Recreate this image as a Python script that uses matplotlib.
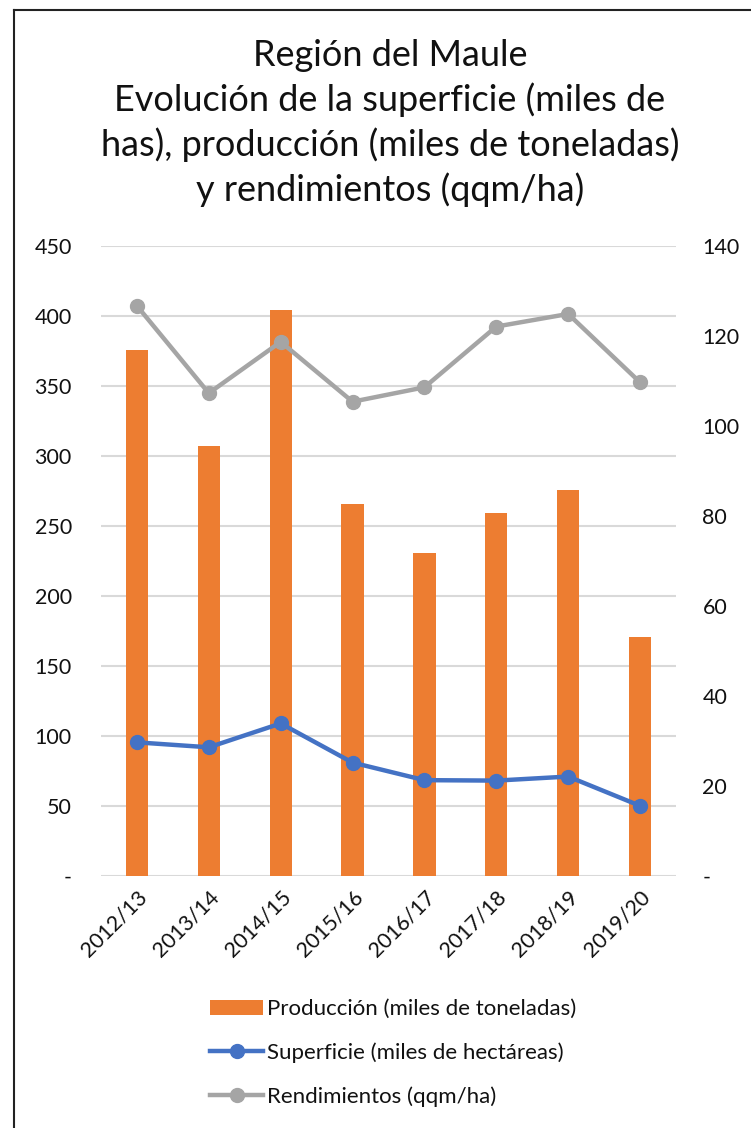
"""
Región del Maule — producción, superficie y rendimientos por temporada.
"""

import matplotlib
matplotlib.use('Agg')
import matplotlib.pyplot as plt
from matplotlib.lines import Line2D
from matplotlib.patches import Patch

plt.rcParams['font.family'] = ['Lato', 'DejaVu Sans']

seasons = ['2012/13', '2013/14', '2014/15', '2015/16',
           '2016/17', '2017/18', '2018/19', '2019/20']
produccion = [376, 307, 404, 266, 231, 259, 276, 171]
superficie = [29.7, 28.6, 33.9, 25.2, 21.3, 21.2, 22.1, 15.6]
rendimientos = [126.7, 107.3, 118.7, 105.4, 108.6, 122.1, 124.9, 109.7]

title_lines = [
    'Región del Maule',
    'Evolución de la superficie (miles de',
    'has), producción (miles de toneladas)',
    'y rendimientos (qqm/ha)',
]

ORANGE = '#ED7D31'
BLUE = '#4472C4'
GREY = '#A5A5A5'
GRID = '#D9D9D9'
TEXT = '#111111'

fig = plt.figure(figsize=(7.51, 11.28), dpi=100)
ax = fig.add_axes([101 / 751, 1 - 876 / 1128, 575 / 751, 630 / 1128])
ax2 = ax.twinx()

x = range(len(seasons))
ax.bar(x, produccion, width=0.31, color=ORANGE, zorder=2)
ax.set_xlim(-0.5, len(seasons) - 0.5)
ax.set_ylim(0, 450)
ax.set_yticks(range(0, 451, 50))
ax.set_yticklabels(['-'] + [str(v) for v in range(50, 451, 50)])
ax.grid(axis='y', color=GRID, linewidth=1.5, zorder=0)
ax.set_axisbelow(True)

ax2.plot(x, superficie, color=BLUE, linewidth=3.2, marker='o',
         markersize=10, solid_capstyle='round')
ax2.plot(x, rendimientos, color=GREY, linewidth=3.2, marker='o',
         markersize=10, solid_capstyle='round')
ax2.set_ylim(0, 140)
ax2.set_yticks(range(0, 141, 20))
ax2.set_yticklabels(['-'] + [str(v) for v in range(20, 141, 20)])

for a in (ax, ax2):
    for side in a.spines.values():
        side.set_visible(False)
    a.tick_params(length=0, labelsize=15.5, colors=TEXT)
ax.tick_params(axis='y', pad=21)
ax2.tick_params(axis='y', pad=19)
ax.set_xticks(list(x))
ax.set_xticklabels(seasons, rotation=45, ha='right', rotation_mode='anchor')
ax.tick_params(axis='x', pad=8)

for i, line in enumerate(title_lines):
    fig.text(390 / 751, 1 - (55 + 45 * i) / 1128, line, ha='center',
             va='center', fontsize=26, color=TEXT)

handles = [
    Patch(facecolor=ORANGE, edgecolor='none'),
    Line2D([], [], color=BLUE, linewidth=3.2, marker='o', markersize=10),
    Line2D([], [], color=GREY, linewidth=3.2, marker='o', markersize=10),
]
labels = ['Producción (miles de toneladas)',
          'Superficie (miles de hectáreas)',
          'Rendimientos (qqm/ha)']
fig.legend(handles, labels, loc='center', bbox_to_anchor=(393 / 751, 1 - 1053 / 1128),
           frameon=False, fontsize=16, handlelength=2.4, handletextpad=0.15,
           labelspacing=1.05, labelcolor=TEXT)

# frame edges visible in the original crop (left and top only)
fig.add_artist(Line2D([14 / 751, 14 / 751], [0, 1 - 10 / 1128], color='#222222',
                      linewidth=1.5, transform=fig.transFigure))
fig.add_artist(Line2D([14 / 751, 1], [1 - 10 / 1128, 1 - 10 / 1128], color='#222222',
                      linewidth=1.5, transform=fig.transFigure))

fig.savefig('out.png', dpi=100)
